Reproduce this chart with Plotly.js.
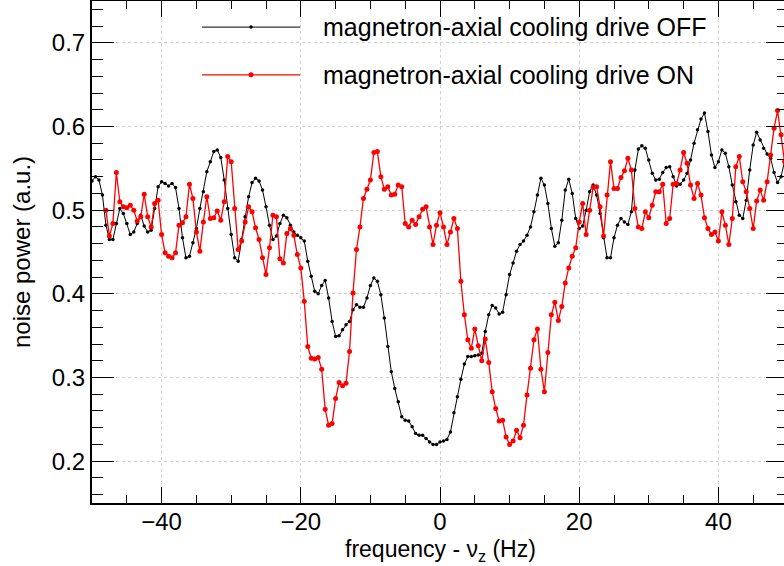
<!DOCTYPE html>
<html>
<head>
<meta charset="utf-8">
<script src="https://cdn.plot.ly/plotly-3.0.1.min.js"></script>
<style>
html,body{margin:0;padding:0;overflow:hidden;background:#fff;width:784px;height:566px;}
#plot{width:792px;height:566px;}
</style>
</head>
<body>
<div id="plot"></div>
<script>
// magnetron-axial cooling drive OFF
const freqOff = [-50,-49.5,-49,-48.5,-48,-47.5,-47,-46.5,-46,-45.5,-45,-44.5,-44,-43.5,-43,-42.5,-42,-41.5,-41,-40.5,
-40,-39.5,-39,-38.5,-38,-37.5,-37,-36.5,-36,-35.5,-35,-34.5,-34,-33.5,-33,-32.5,-32,-31.5,-31,-30.5,
-30,-29.5,-29,-28.5,-28,-27.5,-27,-26.5,-26,-25.5,-25,-24.5,-24,-23.5,-23,-22.5,-22,-21.5,-21,-20.5,
-20,-19.5,-19,-18.5,-18,-17.5,-17,-16.5,-16,-15.5,-15,-14.5,-14,-13.5,-13,-12.5,-12,-11.5,-11,-10.5,
-10,-9.5,-9,-8.5,-8,-7.5,-7,-6.5,-6,-5.5,-5,-4.5,-4,-3.5,-3,-2.5,-2,-1.5,-1,-0.5,
0,0.5,1,1.5,2,2.5,3,3.5,4,4.5,5,5.5,6,6.5,7,7.5,8,8.5,9,9.5,
10,10.5,11,11.5,12,12.5,13,13.5,14,14.5,15,15.5,16,16.5,17,17.5,18,18.5,19,19.5,
20,20.5,21,21.5,22,22.5,23,23.5,24,24.5,25,25.5,26,26.5,27,27.5,28,28.5,29,29.5,
30,30.5,31,31.5,32,32.5,33,33.5,34,34.5,35,35.5,36,36.5,37,37.5,38,38.5,39,39.5,
40,40.5,41,41.5,42,42.5,43,43.5,44,44.5,45,45.5,46,46.5,47,47.5,48,48.5,49,49.5];
const powerOff = [0.535,0.540,0.536,0.518,0.482,0.465,0.465,0.484,0.502,0.496,0.484,0.471,0.474,0.484,0.494,0.481,0.474,0.476,0.502,0.528,
0.534,0.532,0.529,0.532,0.527,0.502,0.467,0.443,0.445,0.461,0.478,0.502,0.522,0.546,0.558,0.570,0.572,0.563,0.536,0.502,
0.471,0.443,0.439,0.465,0.492,0.516,0.533,0.538,0.535,0.524,0.504,0.482,0.465,0.469,0.484,0.494,0.491,0.482,0.474,0.470,
0.467,0.463,0.439,0.421,0.403,0.400,0.410,0.416,0.395,0.367,0.349,0.350,0.357,0.363,0.367,0.381,0.387,0.384,0.384,0.395,
0.410,0.419,0.415,0.399,0.371,0.337,0.307,0.287,0.271,0.253,0.249,0.248,0.241,0.233,0.231,0.231,0.227,0.223,0.220,0.220,
0.223,0.224,0.226,0.235,0.258,0.277,0.298,0.316,0.325,0.325,0.326,0.327,0.329,0.355,0.375,0.386,0.383,0.376,0.378,0.399,
0.423,0.437,0.451,0.459,0.463,0.470,0.480,0.498,0.518,0.538,0.530,0.508,0.478,0.457,0.461,0.488,0.524,0.537,0.520,0.490,
0.478,0.481,0.500,0.522,0.530,0.518,0.496,0.467,0.443,0.443,0.467,0.482,0.490,0.486,0.483,0.498,0.548,0.573,0.577,0.574,
0.560,0.544,0.536,0.537,0.545,0.551,0.552,0.540,0.529,0.531,0.536,0.544,0.560,0.580,0.596,0.609,0.616,0.594,0.566,0.551,
0.558,0.572,0.568,0.552,0.530,0.510,0.494,0.490,0.512,0.548,0.578,0.593,0.584,0.574,0.567,0.562,0.545,0.533,0.540,0.558];

// magnetron-axial cooling drive ON
const freqOn = [-48,-47.5,-47,-46.5,-46,-45.5,-45,-44.5,-44,-43.5,-43,-42.5,-42,-41.5,-41,-40.5,
-40,-39.5,-39,-38.5,-38,-37.5,-37,-36.5,-36,-35.5,-35,-34.5,-34,-33.5,-33,-32.5,-32,-31.5,-31,-30.5,
-30,-29.5,-29,-28.5,-28,-27.5,-27,-26.5,-26,-25.5,-25,-24.5,-24,-23.5,-23,-22.5,-22,-21.5,-21,-20.5,
-20,-19.5,-19,-18.5,-18,-17.5,-17,-16.5,-16,-15.5,-15,-14.5,-14,-13.5,-13,-12.5,-12,-11.5,-11,-10.5,
-10,-9.5,-9,-8.5,-8,-7.5,-7,-6.5,-6,-5.5,-5,-4.5,-4,-3.5,-3,-2.5,-2,-1.5,-1,-0.5,
0,0.5,1,1.5,2,2.5,3,3.5,4,4.5,5,5.5,6,6.5,7,7.5,8,8.5,9,9.5,
10,10.5,11,11.5,12,12.5,13,13.5,14,14.5,15,15.5,16,16.5,17,17.5,18,18.5,19,19.5,
20,20.5,21,21.5,22,22.5,23,23.5,24,24.5,25,25.5,26,26.5,27,27.5,28,28.5,29,29.5,
30,30.5,31,31.5,32,32.5,33,33.5,34,34.5,35,35.5,36,36.5,37,37.5,38,38.5,39,39.5,
40,40.5,41,41.5,42,42.5,43,43.5,44,44.5,45,45.5,46,46.5,47,47.5,48,48.5,49,49.5];
const powerOn = [0.500,0.469,0.484,0.545,0.510,0.504,0.503,0.506,0.500,0.487,0.492,0.519,0.492,0.480,0.508,0.512,
0.471,0.449,0.445,0.443,0.449,0.482,0.485,0.492,0.531,0.514,0.474,0.451,0.486,0.516,0.490,0.491,0.499,0.488,0.510,0.564,
0.558,0.502,0.453,0.463,0.486,0.504,0.498,0.479,0.465,0.443,0.423,0.455,0.494,0.492,0.442,0.437,0.472,0.478,0.470,0.447,
0.431,0.391,0.337,0.323,0.322,0.324,0.310,0.262,0.243,0.245,0.275,0.294,0.290,0.293,0.331,0.401,0.453,0.480,0.514,0.525,
0.536,0.569,0.570,0.540,0.525,0.528,0.518,0.519,0.530,0.528,0.484,0.480,0.488,0.483,0.492,0.501,0.504,0.480,0.459,0.482,
0.497,0.480,0.459,0.474,0.490,0.478,0.415,0.375,0.345,0.335,0.358,0.338,0.320,0.346,0.318,0.283,0.263,0.248,0.249,0.229,
0.220,0.224,0.237,0.228,0.243,0.279,0.311,0.345,0.358,0.310,0.283,0.330,0.375,0.390,0.368,0.385,0.413,0.431,0.445,0.455,
0.486,0.508,0.471,0.500,0.527,0.528,0.504,0.469,0.518,0.558,0.526,0.526,0.539,0.547,0.562,0.548,0.502,0.480,0.478,0.498,
0.491,0.506,0.522,0.522,0.531,0.484,0.490,0.531,0.532,0.548,0.569,0.556,0.530,0.514,0.532,0.518,0.491,0.478,0.471,0.474,
0.463,0.498,0.482,0.459,0.490,0.552,0.564,0.534,0.522,0.502,0.478,0.511,0.524,0.512,0.534,0.566,0.598,0.619,0.590,0.558];

const seriesNames = ['magnetron-axial cooling drive OFF', 'magnetron-axial cooling drive ON'];
const xTitle = 'frequency - ν<sub>z</sub> (Hz)';
const yTitle = 'noise power (a.u.)';

const FONT = 'Liberation Sans, Arial, Helvetica, sans-serif';
const colOff = '#000000';
const colOn = '#ff0000';

const traces = [
  {x: freqOff, y: powerOff, type: 'scatter', mode: 'lines+markers', name: seriesNames[0],
   line: {color: colOff, width: 1}, marker: {color: colOff, size: 3.5}},
  {x: freqOn, y: powerOn, type: 'scatter', mode: 'lines+markers', name: seriesNames[1],
   line: {color: colOn, width: 1.3}, marker: {color: colOn, size: 5}}
];

const axisCommon = {
  showline: true, linecolor: '#000', linewidth: 2, mirror: 'ticks',
  ticks: 'inside', tickcolor: '#000', tickwidth: 1,
  showgrid: true, gridcolor: '#d0d0d0', griddash: 'dot', gridwidth: 1,
  zeroline: false,
  tickfont: {family: FONT, size: 24, color: '#000'}
};

// custom legend (long line samples like the reference)
const legY = [0.948, 0.853];
const legColors = [colOff, colOn];
const legDot = [3.5, 5];
const shapes = [];
const annotations = [];
for (let i = 0; i < 2; i++) {
  shapes.push({type: 'line', xref: 'paper', yref: 'paper', x0: 0.158, x1: 0.299, y0: legY[i], y1: legY[i],
    line: {color: legColors[i], width: i === 1 ? 1.3 : 1}});
  shapes.push({type: 'circle', xref: 'paper', yref: 'paper', xsizemode: 'pixel', ysizemode: 'pixel',
    xanchor: 0.2285, yanchor: legY[i], x0: -legDot[i] / 2, x1: legDot[i] / 2, y0: -legDot[i] / 2, y1: legDot[i] / 2,
    fillcolor: legColors[i], line: {width: 0}});
  annotations.push({xref: 'paper', yref: 'paper', x: 0.329, y: legY[i], xanchor: 'left', yanchor: 'middle',
    text: seriesNames[i], showarrow: false, font: {family: FONT, size: 25, color: '#000'}});
}
// x-axis title placed just below the tick labels
annotations.push({xref: 'paper', yref: 'paper', x: 0.5, y: -0.0946, xanchor: 'center', yanchor: 'middle',
  text: xTitle, showarrow: false, borderpad: 0, font: {family: FONT, size: 23, color: '#000'}});

const layout = {
  width: 792, height: 566,
  margin: {l: 92, r: 4, t: 1, b: 63},
  paper_bgcolor: '#fff', plot_bgcolor: '#fff',
  showlegend: false,
  xaxis: Object.assign({}, axisCommon, {
    range: [-50, 50], dtick: 20, tick0: 0, ticklen: 16, ticklabelstandoff: -4,
    minor: {dtick: 5, ticklen: 8, tickcolor: '#000', tickwidth: 1, showgrid: false, ticks: 'inside'}
  }),
  yaxis: Object.assign({}, axisCommon, {
    range: [0.15, 0.75], dtick: 0.1, tick0: 0.2, tickformat: '.1f', ticklen: 22,
    minor: {dtick: 0.02, ticklen: 11, tickcolor: '#000', tickwidth: 1, showgrid: false, ticks: 'inside'},
    title: {text: yTitle, font: {family: FONT, size: 24, color: '#000'}, standoff: 14}
  }),
  shapes: shapes,
  annotations: annotations
};

Plotly.newPlot('plot', traces, layout, {displayModeBar: false, staticPlot: true});
</script>
</body>
</html>
